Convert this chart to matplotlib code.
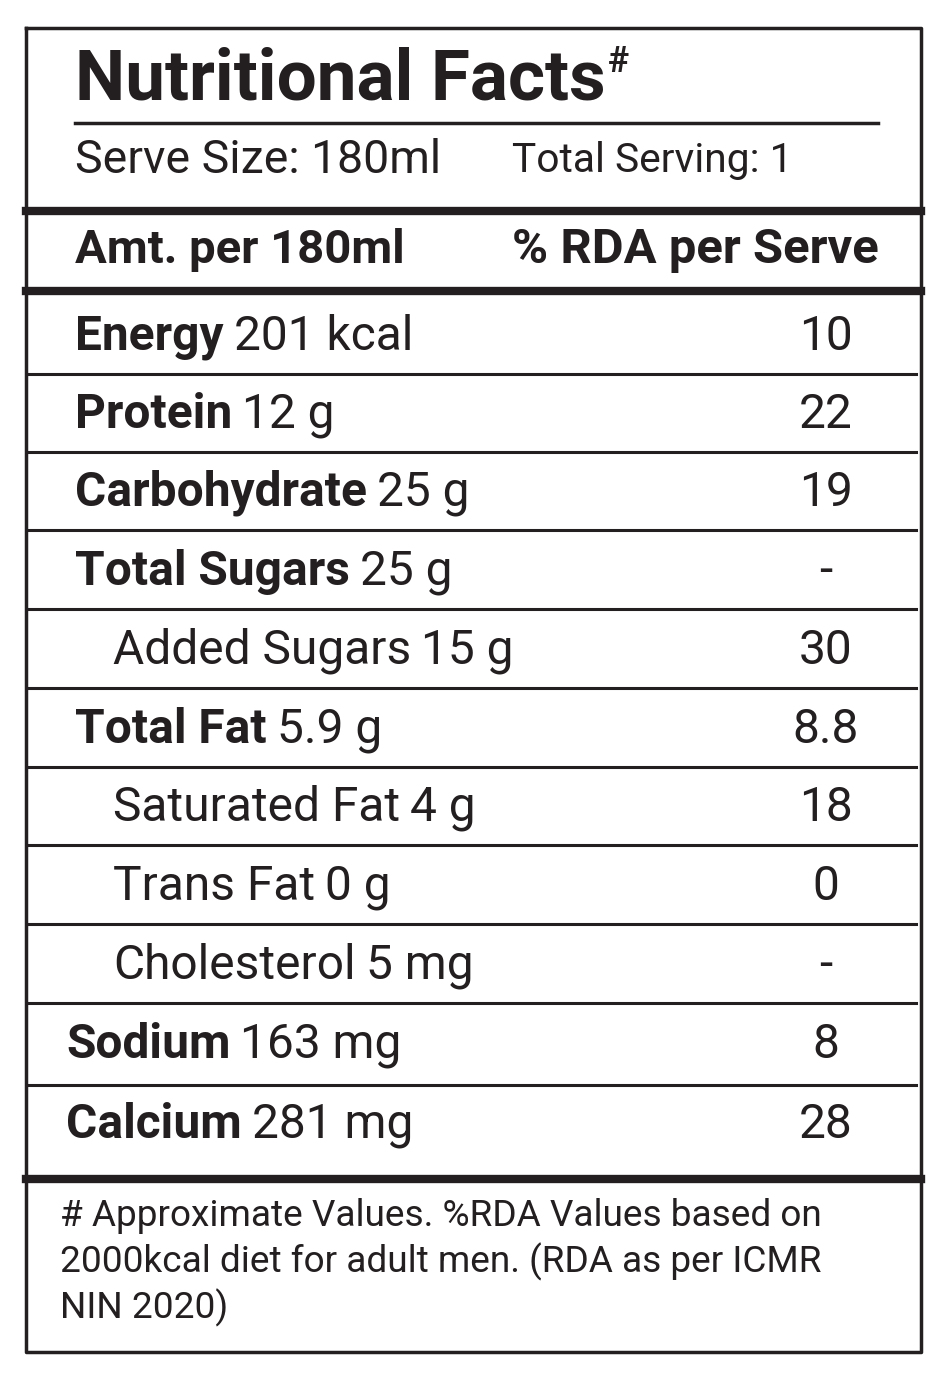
import matplotlib
matplotlib.use("Agg")
import matplotlib.pyplot as plt

names = ["Energy", "Protein", "Carbohydrate", "Total Sugars", "Added Sugars", "Total Fat",
         "Saturated Fat", "Trans Fat", "Cholesterol", "Sodium", "Calcium"]
amounts = ["201 kcal", "12 g", "25 g", "25 g", "15 g", "5.9 g", "4 g", "0 g", "5 mg", "163 mg", "281 mg"]
rda = ["10", "22", "19", "-", "30", "8.8", "18", "0", "-", "8", "28"]
bold_name = [True, True, True, True, False, True, False, False, False, True, True]
indent = [75, 75, 75, 75, 113, 75, 113, 113, 113, 66, 66]
row_y = [337, 415, 493, 572, 651, 730, 808, 887, 966, 1045, 1125]
row_lines = [374, 452, 530, 609, 688, 767, 845, 924, 1003, 1085]
footnote = ["# Approximate Values. %RDA Values based on",
            "2000kcal diet for adult men. (RDA as per ICMR",
            "NIN 2020)"]

FAM = ['Roboto', 'DejaVu Sans']
C = '#231f20'
fig = plt.figure(figsize=(9.4, 13.74), dpi=100)
ax = fig.add_axes([0, 0, 1, 1])
ax.set_xlim(0, 940); ax.set_ylim(1374, 0); ax.axis('off')
fig.canvas.draw()
r = fig.canvas.get_renderer()

def width(s, size, weight):
    t = ax.text(0, 0, s, fontsize=size, fontweight=weight, family=FAM)
    w = t.get_window_extent(r).width
    t.remove()
    return w

def fit(s, target, weight='normal', base=30):
    return base * target / width(s, base, weight)

def txt(x, y, s, size, weight='normal', **kw):
    kw.setdefault('va', 'center')
    t = ax.text(x, y, s, fontsize=size, fontweight=weight, family=FAM, color=C, **kw)
    return t

ax.plot([26, 921, 921, 26, 26], [28, 28, 1352, 1352, 28], color=C, lw=2.5)
ts = fit("Nutritional Facts", 530, 'bold')
t = txt(75, 100, "Nutritional Facts", ts, 'bold', va='baseline')
txt(t.get_window_extent(r).x1 + 2, 72, "#", ts * 0.5, 'bold', va='baseline')
ax.plot([75, 878], [123, 123], color=C, lw=2.5)
txt(75, 160, "Serve Size: 180ml", fit("Serve Size: 180ml", 365))
txt(512, 160, "Total Serving: 1", fit("Total Serving: 1", 280))
ax.plot([26, 921], [211, 211], color=C, lw=6)
txt(75, 250, "Amt. per 180ml", fit("Amt. per 180ml", 330, 'bold'), 'bold')
txt(512, 250, "% RDA per Serve", fit("% RDA per Serve", 366, 'bold'), 'bold')
ax.plot([26, 921], [291, 291], color=C, lw=6)

rs = 30 * 397 / (width("Carbohydrate", 30, 'bold') + width("25 g", 30, 'normal') + 12)
for i, n in enumerate(names):
    tn = txt(indent[i], row_y[i], n, rs, 'bold' if bold_name[i] else 'normal')
    x1 = tn.get_window_extent(r).x1
    txt(x1 + 10, row_y[i], amounts[i], rs)
    txt(826, row_y[i], rda[i], rs, ha='center')
for y in row_lines:
    ax.plot([29, 916], [y, y], color=C, lw=2.2)
ax.plot([26, 921], [1179, 1179], color=C, lw=6)
fs = fit(footnote[0], 760)
for k, line in enumerate(footnote):
    txt(60, 1216 + k * 46, line, fs)

fig.savefig("out.png", dpi=100)
